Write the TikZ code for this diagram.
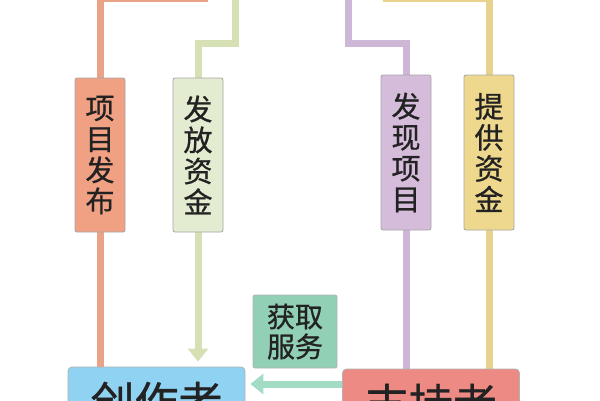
\documentclass[tikz,border=0pt]{standalone}
\usepackage{fontspec}
\setmainfont[FakeBold=0.8,AutoFakeBold=0.8]{Noto Sans CJK SC}
\usetikzlibrary{arrows.meta,backgrounds}
\definecolor{oline}{HTML}{EBA388}
\definecolor{obox}{HTML}{F0A083}
\definecolor{gline}{HTML}{D5E0B5}
\definecolor{gbox}{HTML}{E3ECD0}
\definecolor{pline}{HTML}{CDB6D6}
\definecolor{pbox}{HTML}{D6BCDB}
\definecolor{yline}{HTML}{E7D38C}
\definecolor{ybox}{HTML}{EED88E}
\definecolor{bbox}{HTML}{90D2F2}
\definecolor{rbox}{HTML}{EE8A84}
\definecolor{tbox}{HTML}{92D0B6}
\definecolor{tline}{HTML}{A3DCC5}
\definecolor{txt}{HTML}{222222}
\begin{document}
\begin{tikzpicture}[x=1pt,y=-1pt,
  conn/.style={line width=7pt},
  tip/.style={-{Triangle[width=20pt,length=13pt]}, shorten >=5pt},
  vbox/.style={draw=gray!70, line width=0.8pt, rounded corners=2pt, minimum width=50pt, inner sep=0pt, align=center, text=txt, font=\fontsize{29}{31}\selectfont},
  bigbox/.style={draw=gray!60, line width=0.8pt, rounded corners=4pt, minimum width=177pt, minimum height=70pt, inner sep=0pt, text=txt, font=\fontsize{44}{48}\selectfont},
  tealbox/.style={draw=gray!60, line width=0.8pt, rounded corners=2pt, fill=tbox, minimum width=84pt, minimum height=73pt, inner sep=0pt, align=center, text=txt, font=\fontsize{28}{30}\selectfont}
]
\useasboundingbox (0,0) rectangle (600,400);
% nodes
\node[vbox, fill=obox, minimum height=154pt] (fabu) at (100,155) {项\\目\\发\\布};
\node[vbox, fill=gbox, minimum height=154pt] (fafang) at (198,155) {发\\放\\资\\金};
\node[vbox, fill=pbox, minimum height=155pt] (faxian) at (406,152.5) {发\\现\\项\\目};
\node[vbox, fill=ybox, minimum height=155pt] (tigong) at (489,152.5) {提\\供\\资\\金};
\node[bigbox, fill=bbox] (chuang) at (156.5,402) {创作者};
\node[bigbox, fill=rbox] (zhichi) at (431,404) {支持者};
\node[tealbox] (fuwu) at (295,331.5) {获取\\服务};
\coordinate (o1) at (208,-2);
\coordinate (g1) at (235,-5);
\coordinate (g2) at (235,43);
\coordinate (p1) at (348,-5);
\coordinate (p2) at (348,43);
\coordinate (y1) at (383,-2);
\coordinate (harr) at (342,384);
% connectors (behind)
\begin{scope}[on background layer]
\draw[conn, oline] (chuang.north -| fabu) -- (fabu.south);
\draw[conn, oline] (fabu.north) |- (o1);
\draw[conn, gline] (g1) -- (g2) -| (fafang.north);
\draw[conn, gline, tip] (fafang.south) -- (chuang.north -| fafang);
\draw[conn, pline] (p1) -- (p2) -| (faxian.north);
\draw[conn, pline] (faxian.south) -- (zhichi.north -| faxian);
\draw[conn, yline] (tigong.north) |- (y1);
\draw[conn, yline] (tigong.south) -- (zhichi.north -| tigong);
\draw[conn, tline, tip] (harr) -- (chuang.east |- harr);
\end{scope}
\end{tikzpicture}
\end{document}
